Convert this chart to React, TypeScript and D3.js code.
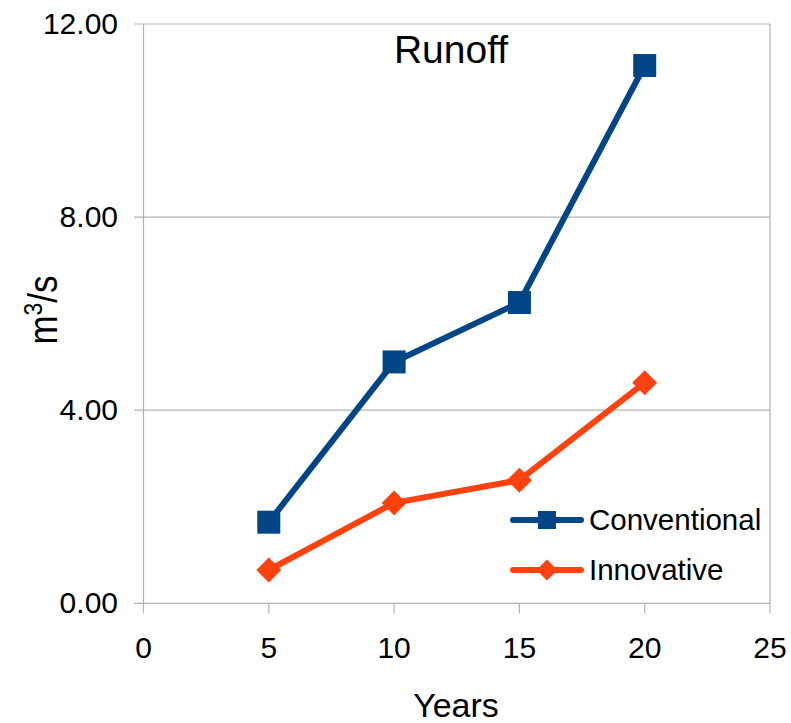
import React from "react";
import * as d3 from "d3";

const years = [5, 10, 15, 20];
const conventional = [1.68, 5.0, 6.23, 11.14];
const innovative = [0.69, 2.08, 2.55, 4.57];
const xTicks = [0, 5, 10, 15, 20, 25];
const yTicks = [0, 4, 8, 12];
const seriesNames = ["Conventional", "Innovative"];
const seriesColors = ["#004586", "#ff420e"];

const W = 791;
const H = 723;
const FONT = "'Liberation Sans', Arial, sans-serif";

export default function App() {
  const x = d3.scaleLinear().domain([0, 25]).range([143.5, 770]);
  const y = d3.scaleLinear().domain([0, 12]).range([603.3, 24]);
  const line = d3
    .line<[number, number]>()
    .x((d) => x(d[0]))
    .y((d) => y(d[1]));
  const convPts = years.map((t, i) => [t, conventional[i]] as [number, number]);
  const innoPts = years.map((t, i) => [t, innovative[i]] as [number, number]);
  const grid = "#b3b3b3";

  const diamond = (cx: number, cy: number, r: number) =>
    `M${cx},${cy - r}L${cx + r},${cy}L${cx},${cy + r}L${cx - r},${cy}Z`;

  return (
    <svg
      width={W}
      height={H}
      style={{ position: "absolute", left: 0, top: 0, background: "#fff" }}
      fontFamily={FONT}
    >
      {/* gridlines + y ticks */}
      {yTicks.map((t) => (
        <line key={"g" + t} x1={134} x2={770} y1={y(t)} y2={y(t)} stroke={grid} strokeWidth={1.2} />
      ))}
      <line x1={x(0)} x2={x(0)} y1={y(12)} y2={y(0)} stroke={grid} strokeWidth={1.2} />
      <line x1={770} x2={770} y1={y(12)} y2={y(0)} stroke={grid} strokeWidth={1.2} />
      {xTicks.map((t) => (
        <line key={"xt" + t} x1={x(t)} x2={x(t)} y1={y(0)} y2={y(0) + 10} stroke={grid} strokeWidth={1.2} />
      ))}
      {yTicks.map((t) => (
        <text key={"yl" + t} x={118} y={y(t) + 10} fontSize={30} textAnchor="end" fill="#000">
          {t.toFixed(2)}
        </text>
      ))}
      {xTicks.map((t) => (
        <text key={"xl" + t} x={x(t)} y={658} fontSize={30} textAnchor="middle" fill="#000">
          {t}
        </text>
      ))}

      {/* series */}
      <path d={line(convPts) || ""} fill="none" stroke={seriesColors[0]} strokeWidth={6} strokeLinejoin="round" />
      <path d={line(innoPts) || ""} fill="none" stroke={seriesColors[1]} strokeWidth={6} strokeLinejoin="round" />
      {convPts.map((p, i) => (
        <rect key={"c" + i} x={x(p[0]) - 11.5} y={y(p[1]) - 11.5} width={23} height={23} fill={seriesColors[0]} />
      ))}
      {innoPts.map((p, i) => (
        <path key={"i" + i} d={diamond(x(p[0]), y(p[1]), 12.5)} fill={seriesColors[1]} />
      ))}

      {/* title */}
      <text x={451} y={63} fontSize={39} textAnchor="middle" fill="#000">
        Runoff
      </text>

      {/* axis titles */}
      <text x={456} y={717} fontSize={34} textAnchor="middle" fill="#000">
        Years
      </text>
      <text transform="translate(56.5,310) rotate(-90) scale(1,1.15)" fontSize={35} textAnchor="middle" fill="#000">
        m<tspan fontSize={23} dy={-13}>3</tspan>
        <tspan dy={13}>/s</tspan>
      </text>

      {/* legend */}
      {seriesNames.map((n, i) => {
        const ly = 520 + i * 50;
        return (
          <g key={n}>
            <line x1={513} x2={581} y1={ly} y2={ly} stroke={seriesColors[i]} strokeWidth={6} strokeLinecap="round" />
            {i === 0 ? (
              <rect x={538} y={ly - 9} width={18} height={18} fill={seriesColors[i]} />
            ) : (
              <path d={diamond(547, ly, 10.5)} fill={seriesColors[i]} />
            )}
            <text x={589} y={ly + 10} fontSize={29.5} fill="#000">
              {n}
            </text>
          </g>
        );
      })}
    </svg>
  );
}
